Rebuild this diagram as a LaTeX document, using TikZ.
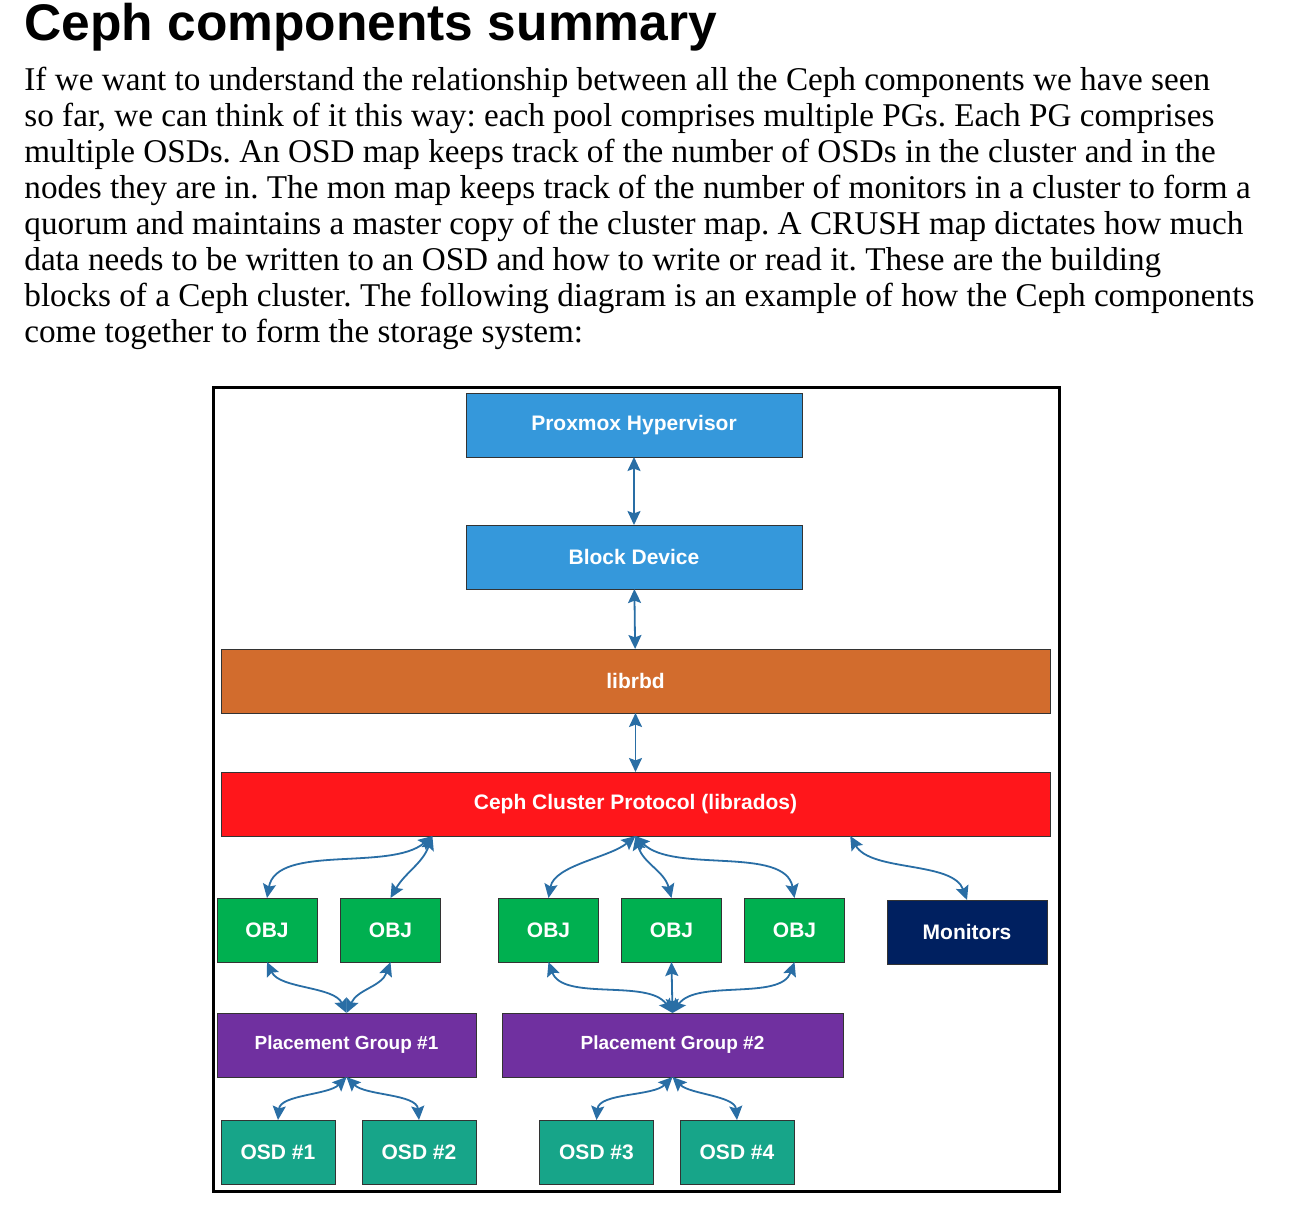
\documentclass[tikz,border=0pt]{standalone}
\usepackage{fontspec}
\setmainfont{Liberation Serif}
\newfontfamily\labelfont{Liberation Sans}
\usetikzlibrary{arrows.meta,calc}

\definecolor{hypblue}{RGB}{53,152,219}
\definecolor{rbdorange}{RGB}{210,108,45}
\definecolor{radosred}{RGB}{255,22,27}
\definecolor{objgreen}{RGB}{0,176,80}
\definecolor{monnavy}{RGB}{0,32,96}
\definecolor{pgpurple}{RGB}{112,48,160}
\definecolor{osdteal}{RGB}{23,165,137}
\definecolor{linkblue}{RGB}{41,110,165}

\begin{document}
\frenchspacing
\begin{tikzpicture}[x=0.5pt,y=-0.5pt,
  box/.style={draw=black!80, line width=0.5pt, inner sep=0pt, outer sep=0pt,
    minimum height=32pt, text=white, font=\labelfont\bfseries\fontsize{10.5}{12}\selectfont},
  objbox/.style={box, fill=objgreen, minimum width=50pt},
  osdbox/.style={box, fill=osdteal, minimum width=57pt},
  pgbox/.style={box, fill=pgpurple, font=\labelfont\bfseries\fontsize{9.5}{11}\selectfont},
  link/.style={draw=linkblue, line width=0.9pt, {Stealth[length=7pt,width=6.5pt,inset=1.2pt]}-{Stealth[length=7pt,width=6.5pt,inset=1.2pt]}}]

\useasboundingbox[fill=white] (0,0) rectangle (1296,1215);

% heading and text
\node[anchor=base west, inner sep=0pt, font=\labelfont\bfseries\fontsize{25.75}{30}\selectfont] (title) at (24,40) {Ceph components summary};
\foreach \t [count=\i] in {
  {If we want to understand the relationship between all the Ceph components we have seen},
  {so far, we can think of it this way: each pool comprises multiple PGs. Each PG comprises},
  {multiple OSDs. An OSD map keeps track of the number of OSDs in the cluster and in the},
  {nodes they are in. The mon map keeps track of the number of monitors in a cluster to form a},
  {quorum and maintains a master copy of the cluster map. A CRUSH map dictates how much},
  {data needs to be written to an OSD and how to write or read it. These are the building},
  {blocks of a Ceph cluster. The following diagram is an example of how the Ceph components},
  {come together to form the storage system:}}
{
  \node[anchor=base west, inner sep=0pt, font=\fontsize{16.6}{18}\selectfont] (line\i) at (24,{90.5+36*(\i-1)}) {\t};
}

% diagram frame
\draw[line width=1.5pt] (213,387) rectangle (1059,1191);

\node[box, fill=hypblue, minimum width=168pt] (proxmox) at (634,425) {Proxmox Hypervisor};
\node[box, fill=hypblue, minimum width=168pt] (block) at (634,557) {Block Device};
\node[box, fill=rbdorange, minimum width=414.5pt] (librbd) at (635.5,681) {librbd};
\node[box, fill=radosred, minimum width=414.5pt] (ceph) at (635.5,804) {Ceph Cluster Protocol (librados)};

\foreach \x [count=\i] in {267,390.5,548.5,671.5,794.5}
  \node[objbox] (obj\i) at (\x,930) {OBJ};
\node[box, fill=monnavy, minimum width=80pt] (mon) at (967,932) {Monitors};

\node[pgbox, minimum width=129.5pt] (pg1) at (346.5,1045) {Placement Group \#1};
\node[pgbox, minimum width=170.5pt] (pg2) at (672.5,1045) {Placement Group \#2};

\foreach \x [count=\i] in {278,419,596.5,737}
  \node[osdbox] (osd\i) at (\x,1152) {OSD \#\i};

\coordinate (cephL) at ($(ceph.south west)!.255!(ceph.south east)$);
\coordinate (cephR) at ($(ceph.south west)!.759!(ceph.south east)$);

% connectors
\draw[link] (proxmox) -- (block);
\draw[link] (block) -- (librbd);
\draw[link] (librbd) -- (ceph);

\draw[link] (cephL) to[out=-140, in=80, looseness=0.8] (obj1.north);
\draw[link] (cephL) to[out=-110, in=60] (obj2.north);
\draw[link] (ceph.south) to[out=-140, in=80, looseness=0.8] (obj3.north);
\draw[link] (ceph.south) to[out=-75, in=105] (obj4.north);
\draw[link] (ceph.south) to[out=-45, in=100, looseness=0.8] (obj5.north);
\draw[link] (cephR) to[out=-60, in=110, looseness=0.8] (mon.north);

\draw[link] (obj1.south) to[out=-65, in=115, looseness=0.8] (pg1.north);
\draw[link] (obj2.south) to[out=-110, in=65] (pg1.north);
\draw[link] (obj3.south) to[out=-70, in=125, looseness=0.8] (pg2.north);
\draw[link] (obj4.south) -- (pg2.north);
\draw[link] (obj5.south) to[out=-110, in=55, looseness=0.8] (pg2.north);

\draw[link] (pg1.south) to[out=-135, in=85, looseness=0.8] (osd1.north);
\draw[link] (pg1.south) to[out=-45, in=95, looseness=0.8] (osd2.north);
\draw[link] (pg2.south) to[out=-135, in=85, looseness=0.8] (osd3.north);
\draw[link] (pg2.south) to[out=-45, in=95, looseness=0.8] (osd4.north);
\end{tikzpicture}
\end{document}
